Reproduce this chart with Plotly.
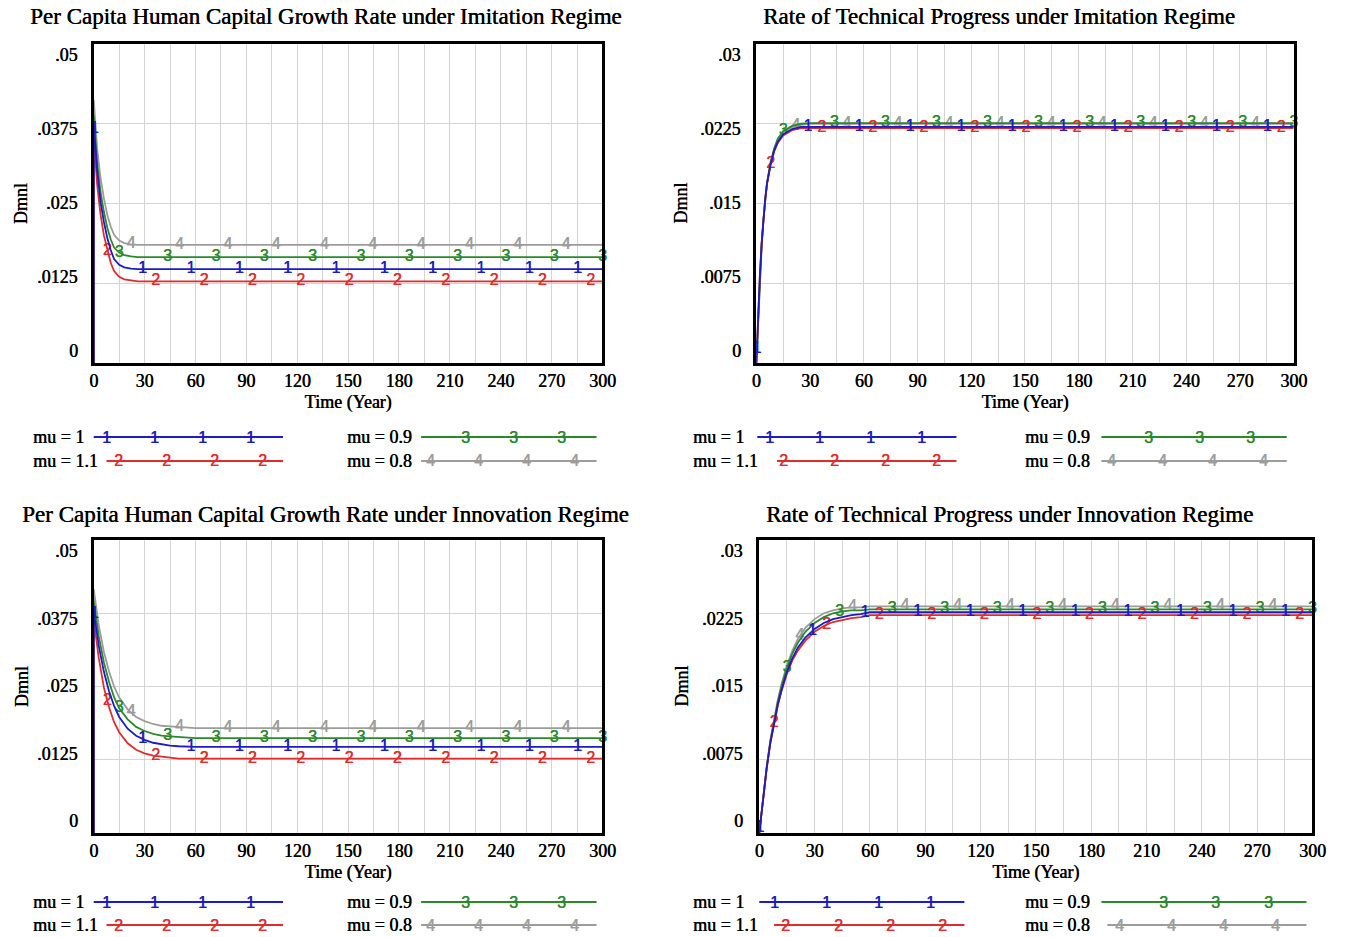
import numpy as np
import plotly.graph_objects as go

# ---------------------------------------------------------------- data ----
RUN_LABELS = ["mu = 1", "mu = 1.1", "mu = 0.9", "mu = 0.8"]
RUN_IDS = ["1", "2", "3", "4"]
RUN_COLORS = ["#1c1cc4", "#e02c2c", "#2a8a2a", "#9c9c9c"]

X_TICKS = [0, 30, 60, 90, 120, 150, 180, 210, 240, 270, 300]

HC_TICKS = [0, 0.0125, 0.025, 0.0375, 0.05]
HC_TICK_TEXT = ["0", ".0125", ".025", ".0375", ".05"]
TP_TICKS = [0, 0.0075, 0.015, 0.0225, 0.03]
TP_TICK_TEXT = ["0", ".0075", ".015", ".0225", ".03"]

# per capita human capital growth rate, imitation regime
T_HC_IMIT = [0, 0, 2, 4, 6, 8, 10, 12, 15, 18, 22, 26, 300]
HC_IMIT_MU_1_0 = [0, 0.0378, 0.0302, 0.0253, 0.0221, 0.0196, 0.0177, 0.0163, 0.0154, 0.0150, 0.0148, 0.0147, 0.0147]
HC_IMIT_MU_1_1 = [0, 0.0355, 0.0280, 0.0233, 0.0200, 0.0176, 0.0157, 0.0144, 0.0135, 0.0131, 0.0129, 0.0128, 0.0128]
HC_IMIT_MU_0_9 = [0, 0.0388, 0.0315, 0.0268, 0.0237, 0.0212, 0.0194, 0.0181, 0.0173, 0.0169, 0.0167, 0.0166, 0.0166]
HC_IMIT_MU_0_8 = [0, 0.0412, 0.0337, 0.0290, 0.0258, 0.0232, 0.0214, 0.0201, 0.0192, 0.0188, 0.0186, 0.0185, 0.0185]

# rate of technical progress, imitation regime
T_TP_IMIT = [0, 1, 2, 3, 4, 5, 6, 8, 10, 12, 15, 20, 25, 30, 300]
TP_IMIT_MU_1_0 = [0, 0.0045, 0.0082, 0.0113, 0.0137, 0.0155, 0.0169, 0.0187, 0.0200, 0.0208, 0.0215, 0.0220, 0.0222, 0.0222, 0.0222]
TP_IMIT_MU_1_1 = [0, 0.0046, 0.0083, 0.0113, 0.0137, 0.0155, 0.0169, 0.0187, 0.0199, 0.0207, 0.0214, 0.0219, 0.0221, 0.0221, 0.0221]
TP_IMIT_MU_0_9 = [0, 0.0043, 0.0080, 0.0111, 0.0136, 0.0155, 0.0170, 0.0189, 0.0202, 0.0211, 0.0218, 0.0223, 0.0225, 0.02255, 0.02255]
TP_IMIT_MU_0_8 = [0, 0.0042, 0.0079, 0.0110, 0.0135, 0.0154, 0.0169, 0.0188, 0.0201, 0.0210, 0.0217, 0.0222, 0.0224, 0.0225, 0.0225]

# per capita human capital growth rate, innovation regime
T_HC_INNO = [0, 0, 3, 6, 9, 12, 15, 20, 25, 30, 35, 40, 45, 50, 60, 300]
HC_INNO_MU_1_0 = [0, 0.0379, 0.0319, 0.0275, 0.0242, 0.0217, 0.0198, 0.0178, 0.0166, 0.0159, 0.0154, 0.0151, 0.0149, 0.0148, 0.0147, 0.0147]
HC_INNO_MU_1_1 = [0, 0.0364, 0.0298, 0.0248, 0.0215, 0.0189, 0.0172, 0.0153, 0.0142, 0.0136, 0.0132, 0.0130, 0.0129, 0.0127, 0.0127, 0.0127]
HC_INNO_MU_0_9 = [0, 0.0396, 0.0335, 0.0291, 0.0258, 0.0232, 0.0213, 0.0194, 0.0181, 0.0174, 0.0169, 0.0166, 0.0165, 0.0164, 0.0162, 0.0162]
HC_INNO_MU_0_8 = [0, 0.0416, 0.0354, 0.0309, 0.0276, 0.0250, 0.0231, 0.0211, 0.0198, 0.0191, 0.0186, 0.0183, 0.0182, 0.0181, 0.0179, 0.0179]

# rate of technical progress, innovation regime
T_TP_INNO = [0, 2, 4, 6, 8, 10, 12, 15, 18, 21, 25, 30, 35, 40, 45, 50, 55, 60, 300]
TP_INNO_MU_1_0 = [0, 0.0036, 0.0066, 0.0092, 0.0113, 0.0131, 0.0146, 0.0165, 0.0179, 0.0190, 0.0200, 0.0209, 0.0215, 0.0219, 0.0221, 0.0223, 0.0224, 0.0226, 0.0226]
TP_INNO_MU_1_1 = [0, 0.0036, 0.0066, 0.0092, 0.0113, 0.0130, 0.0145, 0.0163, 0.0177, 0.0187, 0.0197, 0.0206, 0.0212, 0.0216, 0.0218, 0.0220, 0.0221, 0.0223, 0.0223]
TP_INNO_MU_0_9 = [0, 0.0036, 0.0067, 0.0094, 0.0116, 0.0134, 0.0150, 0.0169, 0.0184, 0.0195, 0.0206, 0.0215, 0.0221, 0.0225, 0.0227, 0.0228, 0.0228, 0.0229, 0.0229]
TP_INNO_MU_0_8 = [0, 0.0036, 0.0067, 0.0095, 0.0117, 0.0136, 0.0152, 0.0172, 0.0187, 0.0199, 0.0210, 0.0219, 0.0225, 0.0228, 0.0230, 0.0231, 0.0231, 0.0232, 0.0232]

# ------------------------------------------------------------- layout ----
W, H = 1354, 937
SERIF = "Liberation Serif, Times New Roman, serif"
SANS = "Liberation Sans, Arial, sans-serif"
GRID = "#d4d4d4"
HEAVY = "0.5px 0px 0px black"   # slight emboldening of the serif text

# run-id labels repeat along each curve every MARK_PERIOD years
MARK_PERIOD = 28.5
MARK_OFFSET = [0.3, 8.0, 15.0, 22.0]


def fx(p):
    return p / W


def fy(p):
    return 1 - p / H


def serif(size):
    return dict(family=SERIF, size=size, color="black", shadow=HEAVY)


def digit_font(color):
    return dict(family=SANS, size=16, color=color, shadow=f"0.4px 0px 0px {color}")


PANELS = [
    dict(title="Per Capita Human Capital Growth Rate under Imitation Regime",
         t=T_HC_IMIT, runs=[HC_IMIT_MU_1_0, HC_IMIT_MU_1_1, HC_IMIT_MU_0_9, HC_IMIT_MU_0_8],
         ticks=HC_TICKS, ticktext=HC_TICK_TEXT,
         box=(90, 606, 44, 363), title_pos=(325, 16), ylab_right=76, ytitle_x=17,
         leg_rows=(437, 461), leg_label_x=(26, 345),
         leg_lines=[(90, 282, 103), (103, 282, 115), (422, 600, 467), (422, 600, 432)],
         leg_step=48.7),
    dict(title="Rate of Technical Progress under Imitation Regime",
         t=T_TP_IMIT, runs=[TP_IMIT_MU_1_0, TP_IMIT_MU_1_1, TP_IMIT_MU_0_9, TP_IMIT_MU_0_8],
         ticks=TP_TICKS, ticktext=TP_TICK_TEXT,
         box=(762, 1307, 44, 363), title_pos=(1008, 16), ylab_right=749, ytitle_x=686,
         leg_rows=(437, 461), leg_label_x=(696, 1032),
         leg_lines=[(763, 965, 775), (783, 965, 790), (1112, 1300, 1160), (1112, 1300, 1122)],
         leg_step=51.5),
    dict(title="Per Capita Human Capital Growth Rate under Innovation Regime",
         t=T_HC_INNO, runs=[HC_INNO_MU_1_0, HC_INNO_MU_1_1, HC_INNO_MU_0_9, HC_INNO_MU_0_8],
         ticks=HC_TICKS, ticktext=HC_TICK_TEXT,
         box=(90, 606, 540, 833), title_pos=(325, 514), ylab_right=76, ytitle_x=17,
         leg_rows=(902, 925), leg_label_x=(26, 345),
         leg_lines=[(90, 282, 103), (103, 282, 115), (422, 600, 467), (422, 600, 432)],
         leg_step=48.7),
    dict(title="Rate of Technical Progress under Innovation Regime",
         t=T_TP_INNO, runs=[TP_INNO_MU_1_0, TP_INNO_MU_1_1, TP_INNO_MU_0_9, TP_INNO_MU_0_8],
         ticks=TP_TICKS, ticktext=TP_TICK_TEXT,
         box=(765, 1326, 540, 833), title_pos=(1019, 514), ylab_right=751, ytitle_x=686,
         leg_rows=(902, 925), leg_label_x=(696, 1032),
         leg_lines=[(765, 973, 780), (780, 973, 792), (1112, 1320, 1175), (1118, 1320, 1130)],
         leg_step=53),
]

fig = go.Figure()
annotations = []
shapes = []
layout_axes = {}

for k, p in enumerate(PANELS, start=1):
    xa, ya = ("x" if k == 1 else f"x{k}"), ("y" if k == 1 else f"y{k}")
    x0, x1, y0, y1 = p["box"]
    ymax = p["ticks"][-1]

    layout_axes["xaxis" if k == 1 else f"xaxis{k}"] = dict(
        domain=[fx(x0), fx(x1)], anchor=ya, range=[0, 300],
        tickvals=X_TICKS, ticktext=[str(v) for v in X_TICKS],
        showgrid=True, gridcolor=GRID, gridwidth=1,
        minor=dict(dtick=15, tick0=0, showgrid=True, gridcolor=GRID, gridwidth=1),
        zeroline=False, showline=True, mirror=True, linecolor="black", linewidth=2.5,
        ticks="", ticklabelstandoff=0,
        tickfont=serif(18),
        title=dict(text="Time (Year)", font=serif(18), standoff=6),
        fixedrange=True,
    )
    layout_axes["yaxis" if k == 1 else f"yaxis{k}"] = dict(
        domain=[fy(y1), fy(y0)], anchor=xa, range=[0, ymax],
        tickvals=p["ticks"], showticklabels=False,
        showgrid=True, gridcolor=GRID, gridwidth=1,
        zeroline=False, showline=True, mirror=True, linecolor="black", linewidth=2.5,
        ticks="", fixedrange=True,
    )

    t = np.asarray(p["t"], dtype=float)
    # draw runs 4, 3, 2 then 1 so run 1 sits on top
    for r in [3, 2, 1, 0]:
        vals = np.asarray(p["runs"][r], dtype=float)
        fig.add_trace(go.Scatter(
            x=t, y=vals, mode="lines", xaxis=xa, yaxis=ya,
            line=dict(color=RUN_COLORS[r], width=1.8), showlegend=False, hoverinfo="skip",
        ))
        tt, vv = (t[1:], vals[1:]) if t[0] == t[1] else (t, vals)
        mt = np.arange(MARK_OFFSET[r], 300.001, MARK_PERIOD)
        my = np.interp(mt, tt, vv)
        fig.add_trace(go.Scatter(
            x=mt, y=my, mode="text", text=[RUN_IDS[r]] * len(mt), xaxis=xa, yaxis=ya,
            textposition="middle center", cliponaxis=False,
            textfont=digit_font(RUN_COLORS[r]),
            showlegend=False, hoverinfo="skip",
        ))

    # panel title
    tx, ty = p["title_pos"]
    annotations.append(dict(
        text=p["title"], x=fx(tx), y=fy(ty), xref="paper", yref="paper",
        xanchor="center", yanchor="middle", showarrow=False, font=serif(23),
    ))
    # y tick labels: spread evenly, inset from both ends of the frame
    top_in, bot_in = y0 + 11, y1 - 12
    n = len(p["ticks"])
    for i, lab in enumerate(p["ticktext"]):
        ly = bot_in - i * (bot_in - top_in) / (n - 1)
        annotations.append(dict(
            text=lab, x=fx(p["ylab_right"]), y=fy(ly), xref="paper", yref="paper",
            xanchor="right", yanchor="middle", showarrow=False, font=serif(18),
        ))
    # y axis title
    annotations.append(dict(
        text="Dmnl", x=fx(p["ytitle_x"]), y=fy((y0 + y1) / 2), xref="paper", yref="paper",
        xanchor="center", yanchor="middle", textangle=-90, showarrow=False, font=serif(18),
    ))

    # legend: two columns, two rows
    for r in range(4):
        col, row = (0, r) if r < 2 else (1, r - 2)
        ry = p["leg_rows"][row]
        annotations.append(dict(
            text=RUN_LABELS[r], x=fx(p["leg_label_x"][col]), y=fy(ry), xref="paper", yref="paper",
            xanchor="left", yanchor="middle", showarrow=False, font=serif(18),
        ))
        lx0, lx1, first = p["leg_lines"][r]
        shapes.append(dict(
            type="line", xref="paper", yref="paper", x0=fx(lx0), x1=fx(lx1), y0=fy(ry), y1=fy(ry),
            line=dict(color=RUN_COLORS[r], width=1.8),
        ))
        m = first
        while m < lx1 - 8:
            annotations.append(dict(
                text=RUN_IDS[r], x=fx(m), y=fy(ry), xref="paper", yref="paper",
                xanchor="center", yanchor="middle", showarrow=False,
                font=digit_font(RUN_COLORS[r]),
            ))
            m += p["leg_step"]

fig.update_layout(
    width=W, height=H, margin=dict(l=0, r=0, t=0, b=0),
    paper_bgcolor="white", plot_bgcolor="white",
    showlegend=False, annotations=annotations, shapes=shapes,
    **layout_axes,
)

fig.write_html("out.html")
